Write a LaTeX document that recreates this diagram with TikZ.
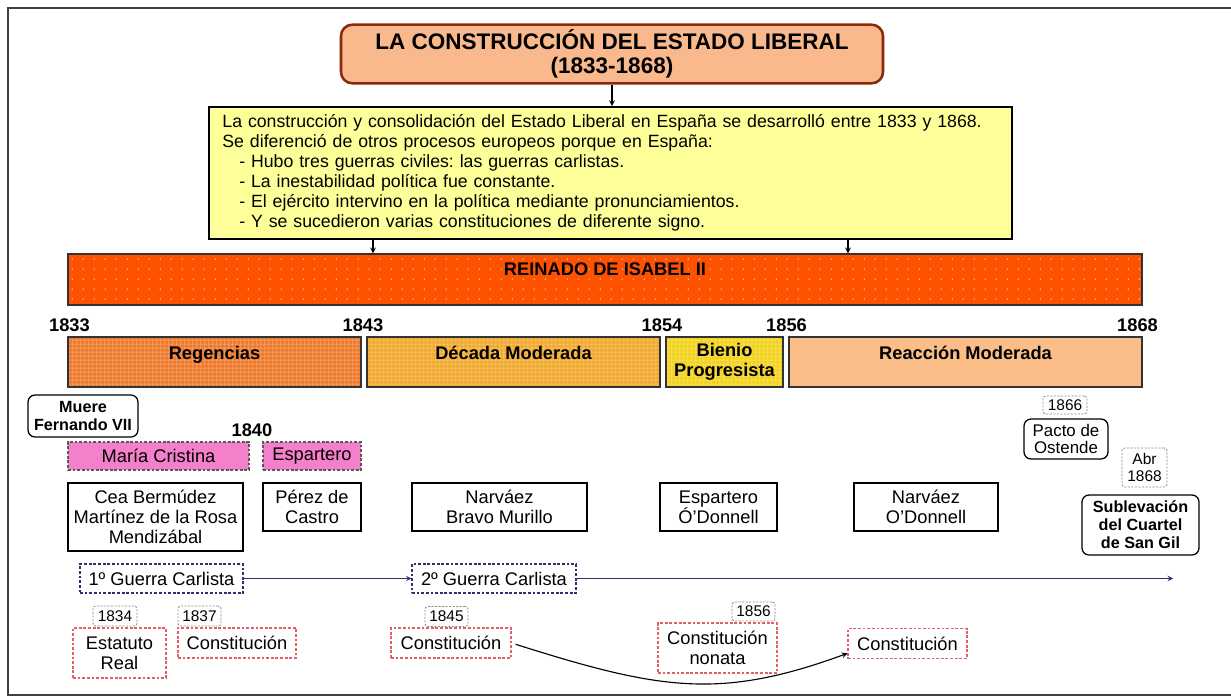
\documentclass[tikz,border=0pt]{standalone}
\usepackage{fontspec}
\setmainfont{Liberation Sans}
\usepackage{tikz}
\usetikzlibrary{shapes,arrows,positioning,patterns}
\frenchspacing

\definecolor{titlefill}{HTML}{F9B98C}
\definecolor{titledraw}{HTML}{8A2A0A}
\definecolor{notefill}{HTML}{FFFF99}
\definecolor{reignfill}{HTML}{FF5200}
\definecolor{regfill}{HTML}{EE7A2C}
\definecolor{decfill}{HTML}{F2AA2E}
\definecolor{bienfill}{HTML}{F3D21E}
\definecolor{reacfill}{HTML}{FBBE88}
\definecolor{pinkfill}{HTML}{F47FCB}
\definecolor{warblue}{HTML}{2E2E70}
\definecolor{constred}{HTML}{E0606A}

\pgfdeclarepatternformonly{reigndots}{\pgfpointorigin}{\pgfpoint{8pt}{7pt}}{\pgfpoint{8pt}{7pt}}{%
  \pgfpathcircle{\pgfpoint{4pt}{3.5pt}}{0.6pt}\pgfusepath{fill}}
\pgfdeclarepatternformonly{periodmesh}{\pgfpointorigin}{\pgfpoint{3pt}{3pt}}{\pgfpoint{3pt}{3pt}}{%
  \pgfsetlinewidth{0.45pt}%
  \pgfpathmoveto{\pgfpoint{0pt}{1.5pt}}\pgfpathlineto{\pgfpoint{3pt}{1.5pt}}%
  \pgfpathmoveto{\pgfpoint{1.5pt}{0pt}}\pgfpathlineto{\pgfpoint{1.5pt}{3pt}}%
  \pgfusepath{stroke}}

\newcommand{\regfont}{\fontsize{13}{14.2}\selectfont}
\newcommand{\boldfont}{\fontsize{13}{14.2}\selectfont\bfseries}

\tikzset{
      framelines/.style = {draw=black!75, line width=1pt},
      boxsize/.style 2 args = {minimum width=#1*0.025cm, minimum height=#2*0.025cm},
      titlebox/.style = {draw=titledraw, line width=1.8pt, fill=titlefill, rounded corners=8pt, align=center, font=\fontsize{16}{17.5}\selectfont\bfseries},
      notebox/.style = {draw=black, line width=1.3pt, fill=notefill, align=left, text width=19.4cm, inner xsep=9pt, font=\fontsize{12.6}{14.2}\selectfont},
      reignbar/.style = {draw=black!80, line width=1pt, preaction={fill=reignfill}, preaction={pattern=reigndots, pattern color=white!70!reignfill}, font=\boldfont, text height=15.2pt, text depth=20.9pt, inner ysep=0pt},
      periodbox/.style = {draw=black!80, line width=1pt, align=center, font=\boldfont},
      meshfill/.style = {preaction={fill=#1}, preaction={pattern=periodmesh, pattern color=white!45!#1}},
      toptext/.style = {text height=15.9pt, text depth=19.5pt, inner ysep=0pt},
      yearlabel/.style = {font=\boldfont, inner sep=0pt},
      eventbox/.style = {draw=black, line width=0.9pt, rounded corners=5pt, align=center, font=\fontsize{11.5}{12.8}\selectfont\bfseries},
      regentbox/.style = {draw=black!65, dash pattern=on 2pt off 1.3pt, line width=0.8pt, fill=pinkfill, font=\regfont},
      ministerbox/.style = {draw=black, line width=1pt, align=center, font=\regfont},
      warbox/.style = {draw=warblue, dash pattern=on 2pt off 1.3pt, line width=0.8pt, font=\regfont},
      constbox/.style = {draw=constred, dash pattern=on 2pt off 1.3pt, line width=0.8pt, align=center, font=\regfont},
      datebox/.style = {draw=black!45, dash pattern=on 1.5pt off 1pt, rounded corners=2pt, line width=0.6pt, align=center, inner sep=1pt, font=\fontsize{11}{11.5}\selectfont},
      cfgedge/.style = {black, ->, >=stealth, line width=0.8pt},
      waredge/.style = {warblue, ->, >=stealth, line width=0.7pt},
    }

\begin{document}
\begin{tikzpicture}[x=0.025cm, y=-0.025cm]
        \useasboundingbox (0,0) rectangle (1231,697);
        \draw[framelines] (1231,8) -- (8,8) -- (8,695) -- (1231,695);

        \node[titlebox, boxsize={542}{58}] (title) at (612,54) {LA CONSTRUCCIÓN DEL ESTADO LIBERAL\\(1833-1868)};
        \node[notebox, boxsize={803}{132}] (note) at (610.5,173) {La construcción y consolidación del Estado Liberal en España se desarrolló entre 1833 y 1868.\\
          Se diferenció de otros procesos europeos porque en España:\\
          \hspace*{12pt}- Hubo tres guerras civiles: las guerras carlistas.\\
          \hspace*{12pt}- La inestabilidad política fue constante.\\
          \hspace*{12pt}- El ejército intervino en la política mediante pronunciamientos.\\
          \hspace*{12pt}- Y se sucedieron varias constituciones de diferente signo.};
        \node[reignbar, boxsize={1074}{51}] (reign) at (605,279.5) {REINADO DE ISABEL II};
        \coordinate (split1) at (373,0);
        \coordinate (split2) at (848,0);

        \node[yearlabel] (y1833) at (69.5,325) {1833};
        \node[yearlabel] (y1843) at (363,325) {1843};
        \node[yearlabel] (y1854) at (662,325) {1854};
        \node[yearlabel] (y1856) at (786.5,325) {1856};
        \node[yearlabel] (y1868) at (1137.5,325) {1868};

        \node[periodbox, toptext, meshfill=regfill, boxsize={293}{50}] (reg) at (214.5,362) {Regencias};
        \node[periodbox, toptext, meshfill=decfill, boxsize={293}{50}] (dec) at (513.5,362) {Década Moderada};
        \node[periodbox, meshfill=bienfill, boxsize={117}{50}, inner sep=0pt] (bien) at (724.5,362) {Bienio\\Progresista};
        \node[periodbox, toptext, fill=reacfill, boxsize={353}{50}] (reac) at (965.5,362) {Reacción Moderada};

        \node[eventbox, boxsize={110}{42}, inner sep=1pt] (muere) at (83,416) {Muere\\Fernando VII};
        \node[yearlabel] (y1840) at (252,430) {1840};
        \node[regentbox, boxsize={181}{28}] (cristina) at (158.5,456) {María Cristina};
        \node[regentbox, boxsize={98}{28}] (espregent) at (312,456) {Espartero};

        \node[ministerbox, boxsize={175}{68}] (cea) at (155.5,517) {Cea Bermúdez\\Martínez de la Rosa\\Mendizábal};
        \node[ministerbox, boxsize={98}{48}] (perez) at (312,507) {Pérez de\\Castro};
        \node[ministerbox, boxsize={175}{48}] (narvaez) at (499.5,507) {Narváez\\Bravo Murillo};
        \node[ministerbox, boxsize={117}{48}] (espodon) at (718.5,507) {Espartero\\Ó’Donnell};
        \node[ministerbox, boxsize={144}{48}] (narodon) at (926,507) {Narváez\\O’Donnell};

        \node[warbox, boxsize={163}{29}] (war1) at (161.5,578.5) {1º Guerra Carlista};
        \node[warbox, boxsize={164}{29}] (war2) at (494,578.5) {2º Guerra Carlista};
        \coordinate (warend) at (1173,578.5);

        \node[datebox, boxsize={44}{20}] (d1834) at (115,616) {1834};
        \node[datebox, boxsize={43}{20}] (d1837) at (199.5,616) {1837};
        \node[datebox, boxsize={43}{20}] (d1845) at (446.5,616.5) {1845};
        \node[datebox, boxsize={43}{19}] (d1856) at (753.5,611.5) {1856};
        \node[datebox, boxsize={44}{18}] (d1866) at (1065,405) {1866};
        \node[datebox, boxsize={45}{39}] (d1868) at (1144.5,467.5) {Abr\\1868};

        \node[constbox, boxsize={93}{50}] (estatuto) at (119.5,653) {Estatuto\\Real};
        \node[constbox, boxsize={118}{30}] (const37) at (237,643) {Constitución};
        \node[constbox, boxsize={120}{30}] (const45) at (451,643) {Constitución};
        \node[constbox, boxsize={119}{50}] (nonata) at (717.5,648) {Constitución\\nonata};
        \node[constbox, boxsize={119}{30}] (const69) at (907.5,643.5) {Constitución};

        \node[eventbox, boxsize={84}{40}, inner sep=1pt, font=\fontsize{12}{11.5}\selectfont] (ostende) at (1066,439) {Pacto de\\Ostende};
        \node[eventbox, boxsize={117}{60}, inner sep=1pt] (sangil) at (1140.5,525) {Sublevación\\del Cuartel\\de San Gil};

        \path (title.south) edge[cfgedge] (title.south |- note.north);
        \path (note.south -| split1) edge[cfgedge] (reign.north -| split1);
        \path (note.south -| split2) edge[cfgedge] (reign.north -| split2);
        \path (war1) edge[waredge] (war2);
        \path (war2) edge[waredge] (warend);
        \draw[cfgedge, shorten <=3pt] (const45.east) .. controls (660,690) and (720,700) .. ([yshift=-7pt]const69.west);
\end{tikzpicture}
\end{document}
